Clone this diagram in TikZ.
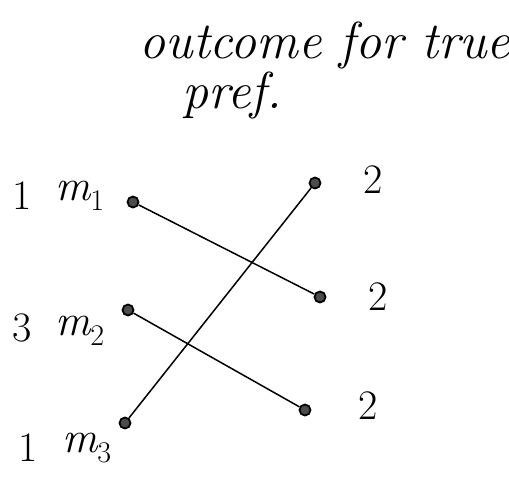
\documentclass[tikz,border=0pt]{standalone}
\begin{document}
\begin{tikzpicture}[x=1pt,y=-1pt,
  dot/.style={circle,draw,fill=black!70,line width=1.8pt,inner sep=0pt,minimum size=11pt},
  link/.style={line width=1.5pt},
  hand/.style={font=\fontsize{52}{58}\selectfont\itshape,inner sep=0pt},
  lab/.style={font=\fontsize{42}{48}\selectfont,inner sep=0pt},
  mlab/.style={font=\fontsize{44}{48}\selectfont\itshape,inner sep=0pt}]
\newcommand{\msub}[1]{m\raisebox{-10pt}{\upshape\fontsize{30}{32}\selectfont #1}}
\useasboundingbox (0,0) rectangle (509,485);
\node[hand,anchor=base] (t1) at (325,58) {outcome for true};
\node[hand,anchor=base] (t2) at (232,108) {pref.};
% left dots
\node[dot] (a1) at (133,202) {};
\node[dot] (a2) at (128,310) {};
\node[dot] (a3) at (125,423) {};
% right dots
\node[dot] (b1) at (315,183) {};
\node[dot] (b2) at (320,297) {};
\node[dot] (b3) at (305,410) {};
\draw[link] (a1) -- (b2);
\draw[link] (a2) -- (b3);
\draw[link] (a3) -- (b1);
% right labels
\node[lab] (r1) at (373,180) {2};
\node[lab] (r2) at (378,297) {2};
\node[lab] (r3) at (368,406) {2};
% left labels
\node[lab] (n1) at (22,196) {1};
\node[mlab,anchor=base west] (m1) at (55,200) {\msub{1}};
\node[lab] (n2) at (22,328) {3};
\node[mlab,anchor=base west] (m2) at (55,335) {\msub{2}};
\node[lab] (n3) at (28,448) {1};
\node[mlab,anchor=base west] (m3) at (62,452) {\msub{3}};
\end{tikzpicture}
\end{document}
